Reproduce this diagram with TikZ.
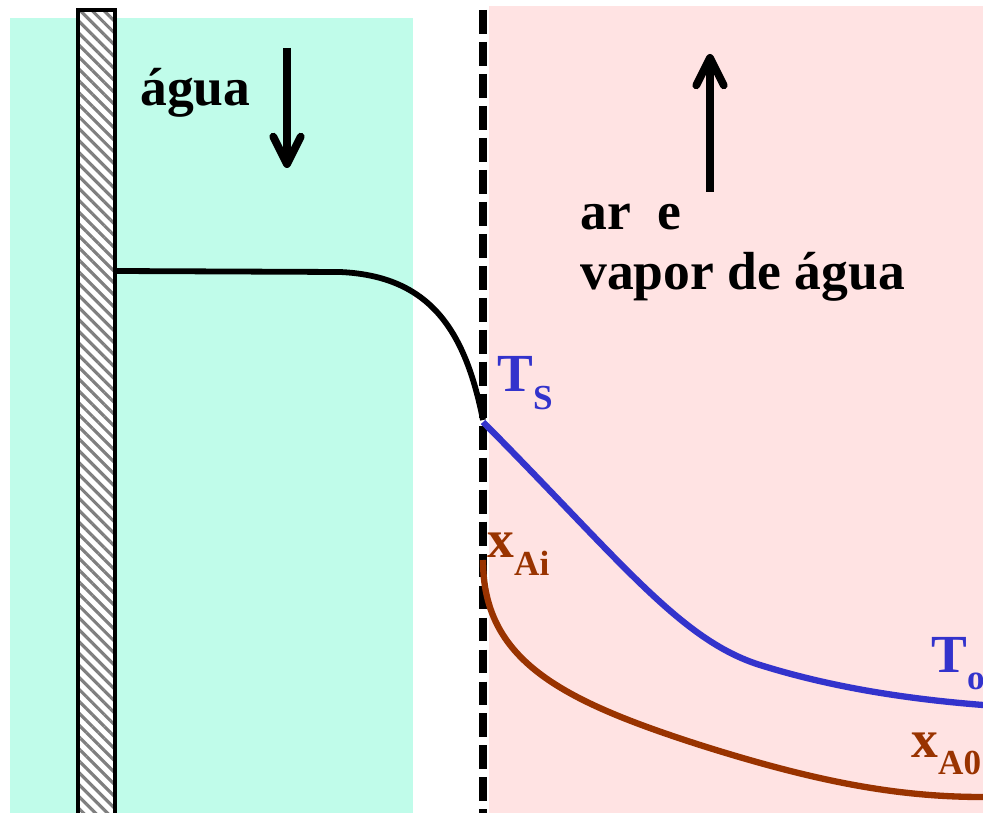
\documentclass[tikz,border=0pt]{standalone}
\usepackage{fontspec}
\setmainfont{Liberation Serif}
\usetikzlibrary{arrows.meta,patterns.meta}
\definecolor{water}{HTML}{C0FCEA}
\definecolor{air}{HTML}{FFE3E3}
\definecolor{tblue}{HTML}{3333CC}
\definecolor{xbrown}{HTML}{993300}
\definecolor{hatch}{HTML}{7F7F7F}
\newcommand{\lowsub}[1]{\raisebox{-.32em}{\fontsize{20}{24}\selectfont #1}}
\tikzset{flow/.style={-{Straight Barb[length=5.5mm,width=5.5mm,round]}, line width=4.4pt}, prof/.style={line width=3.6pt}, lab/.style={font=\fontsize{30.5}{36}\selectfont\bfseries, inner sep=0pt, anchor=base west}, wall/.style={draw=black, line width=1.8pt, fill=white}, iface/.style={line width=4.5pt, dash pattern=on 13.6pt off 4.6pt}}
\begin{document}
\begin{tikzpicture}[x=0.02cm,y=-0.02cm]
\useasboundingbox (0,0) rectangle (983,813);
% fluid regions
\fill[water] (10,18) rectangle (413,813);
\fill[air] (489,6) rectangle (983,813);
% tube wall
\filldraw[wall] (78,10) rectangle (115,820);
\fill[pattern={Lines[angle=-45,distance=4.8pt,line width=1.8pt]}, pattern color=hatch] (79.5,11.5) rectangle (113.5,813);
\draw[wall, fill=none] (78,10) rectangle (115,820);
% interface
\draw[iface] (483,10) -- (483,813);
% flow directions
\coordinate (wtop) at (287,48); \coordinate (wbot) at (287,168);
\draw[flow] (wtop) -- (wbot);
\coordinate (abot) at (710,192); \coordinate (atop) at (710,54);
\draw[flow] (abot) -- (atop);
% profiles
\draw[prof, line width=3.3pt] (115,271) -- (340,272) .. controls (430,276) and (465,330) .. (483,420);
\draw[prof, tblue] (483,422) .. controls (620,560) and (680,640) .. (760,665) .. controls (840,690) and (920,700) .. (983,705);
\draw[prof, xbrown] (483,560) .. controls (483,660) and (560,700) .. (700,745) .. controls (820,783) and (900,797) .. (983,797);
% labels
\node[lab] (agua) at (140,106) {água};
\node[lab] (are) at (580,230) {ar\ \ e};
\node[lab] (vapor) at (580,290) {vapor de água};
\node[lab, text=tblue] (ts) at (497,392) {T\lowsub{S}};
\node[lab, text=xbrown] (xai) at (487,558) {x\lowsub{Ai}};
\node[lab, text=tblue] (to) at (931,672) {T\lowsub{o}};
\node[lab, text=xbrown] (xa0) at (911,757) {x\lowsub{A0}};
\end{tikzpicture}
\end{document}
